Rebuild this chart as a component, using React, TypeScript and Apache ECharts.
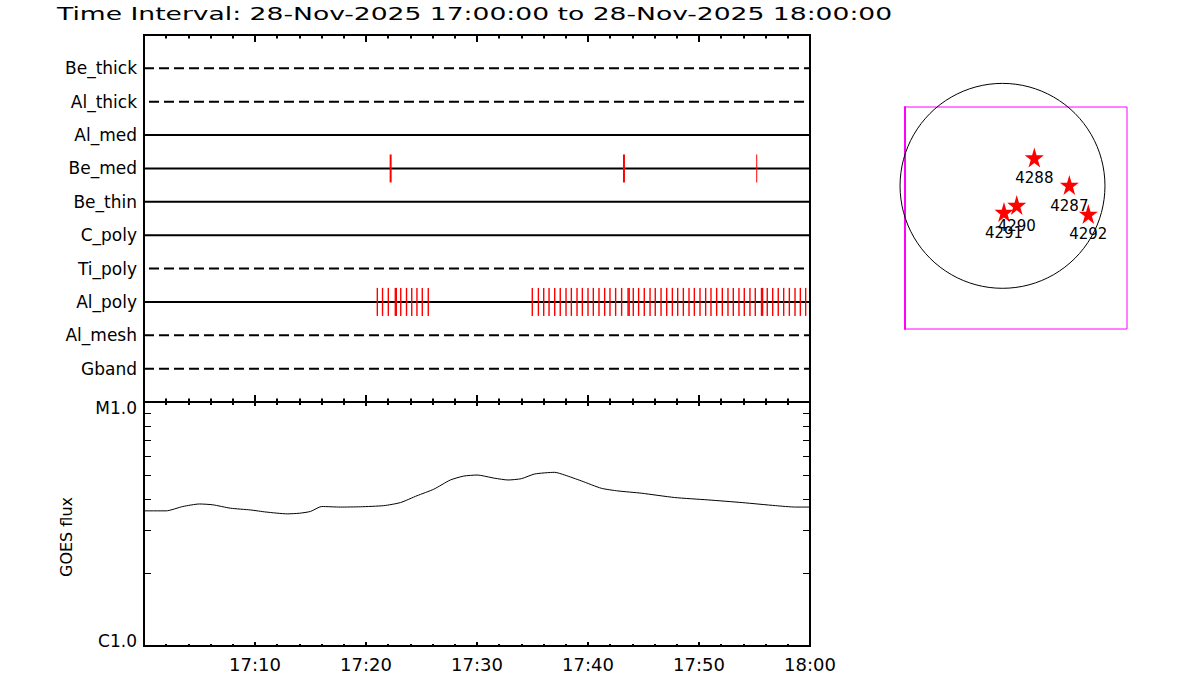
import React, { useEffect, useRef } from 'react';
import * as echarts from 'echarts';

// ---------- data ----------
const titleText = 'Time Interval: 28-Nov-2025 17:00:00 to 28-Nov-2025 18:00:00';

const rowNames = ['Be_thick', 'Al_thick', 'Al_med', 'Be_med', 'Be_thin', 'C_poly', 'Ti_poly', 'Al_poly', 'Al_mesh', 'Gband'];
const dashedRows = ['Be_thick', 'Al_thick', 'Ti_poly', 'Al_mesh', 'Gband'];
const offsetDashRows = ['Al_thick', 'Ti_poly'];

// event times in minutes after 17:00
const beMedEvents = [22.22, 43.24];
const beMedFaintEvents = [55.2];
const alPolyEvents = [
  21.02, 21.49, 22.01, 22.64, 22.73, 23.13, 23.65, 24.12, 24.59, 25.07, 25.61,
  34.98, 35.53, 36.01, 36.49, 37.0, 37.5, 38.02, 38.5, 39.01, 39.49, 40.0, 40.48,
  40.99, 41.5, 41.98, 42.49, 43.03, 43.61, 43.71, 44.08, 44.56, 45.07, 45.59, 46.06,
  46.58, 47.09, 47.6, 48.08, 48.59, 49.1, 49.58, 50.09, 50.6, 51.08, 51.59, 52.1,
  52.61, 53.09, 53.6, 54.08, 54.59, 55.07, 55.63, 55.73, 56.15, 56.64, 57.14, 57.63,
  58.14, 58.65, 59.13, 59.61,
];

// GOES flux (W/m^2), minutes after 17:00
const goesMinutes = [0, 2.0, 3.5, 5.0, 6.2, 7.8, 9.6, 11.0, 12.9, 14.0, 15.0, 16.0, 17.7, 19.5, 21.6, 23.1, 24.6, 26.1, 27.6, 28.8, 30.0, 31.6, 32.8, 34.0, 35.2, 37.0, 37.9, 39.4, 41.2, 42.7, 44.8, 47.8, 50.8, 53.9, 56.9, 58.7, 60];
const goesFlux = [3.58e-6, 3.58e-6, 3.73e-6, 3.82e-6, 3.79e-6, 3.67e-6, 3.61e-6, 3.54e-6, 3.48e-6, 3.5e-6, 3.56e-6, 3.73e-6, 3.71e-6, 3.72e-6, 3.76e-6, 3.87e-6, 4.13e-6, 4.39e-6, 4.79e-6, 4.97e-6, 5.02e-6, 4.87e-6, 4.79e-6, 4.85e-6, 5.07e-6, 5.15e-6, 5.02e-6, 4.75e-6, 4.43e-6, 4.32e-6, 4.23e-6, 4.06e-6, 3.97e-6, 3.87e-6, 3.76e-6, 3.71e-6, 3.71e-6];
const fluxMinorTicks = [2e-6, 3e-6, 4e-6, 5e-6, 6e-6, 7e-6, 8e-6, 9e-6];

// Active regions (arcsec)
const regionIds = ['4288', '4287', '4292', '4291', '4290'];
const regionX = [302, 634, 814, 14, 135];
const regionY = [268, 8, -267, -249, -182];
const solarRadius = 972;
const fovCenter = [128, -305];
const fovHalf = 1053;

// ---------- helpers ----------
const FONT = 'DejaVu Sans';
const fmtTime = (v: number) => {
  if (v <= 0) return '';
  if (v >= 60) return '18:00';
  return '17:' + String(Math.round(v)).padStart(2, '0');
};
const starPath =
  'path://M0,-10 L2.245,-3.09 L9.51,-3.09 L3.633,1.18 L5.88,8.09 L0,3.82 L-5.88,8.09 L-3.633,1.18 L-9.51,-3.09 L-2.245,-3.09 Z';

function measure(text: string, font: string) {
  const ctx = document.createElement('canvas').getContext('2d');
  if (!ctx) return 600;
  ctx.font = font;
  return ctx.measureText(text).width;
}

function eventSeries(times: number[], row: string, width: number) {
  const idx = rowNames.indexOf(row) + 1;
  return {
    type: 'custom',
    xAxisIndex: 1,
    yAxisIndex: 0,
    silent: true,
    z: 3,
    data: times.map((t) => [t, idx]),
    renderItem: (_p: any, api: any) => {
      const p = api.coord([api.value(0), api.value(1)]);
      return {
        type: 'line',
        shape: { x1: p[0], y1: p[1] - 14, x2: p[0], y2: p[1] + 14 },
        style: { stroke: '#ff0000', lineWidth: width, opacity: 1 },
      };
    },
  };
}

const tickAxis = (gridIndex: number, position: 'top' | 'bottom', major: number, minor: number, showLabel: boolean) => ({
  type: 'value',
  gridIndex,
  position,
  min: 0,
  max: 60,
  interval: 10,
  axisLine: { show: true, onZero: false, lineStyle: { color: '#000', width: 2 } },
  axisTick: { show: true, inside: true, length: major, lineStyle: { color: '#000', width: 2 } },
  minorTick: { show: true, splitNumber: 5, length: minor, lineStyle: { color: '#000', width: 2 } },
  splitLine: { show: false },
  minorSplitLine: { show: false },
  axisLabel: {
    show: showLabel,
    formatter: fmtTime,
    fontFamily: FONT,
    fontSize: 18,
    color: '#000',
    margin: 9,
  },
});

export default function App() {
  const ref = useRef<HTMLDivElement>(null);

  useEffect(() => {
    document.body.style.margin = '0';
    if (!ref.current) return;
    const chart = echarts.init(ref.current, undefined, { renderer: 'svg' });

    const titleFont = `18px "${FONT}"`;
    const titleWidth = measure(titleText, titleFont);
    const titleScale = 836 / titleWidth;

    const rowSeries = rowNames.map((name, i) => ({
      type: 'line',
      name,
      xAxisIndex: 1,
      yAxisIndex: 0,
      silent: true,
      symbol: 'none',
      z: 2,
      data: [
        [0, i + 1],
        [60, i + 1],
      ],
      lineStyle: {
        color: '#000',
        width: 2,
        type: dashedRows.includes(name) ? [10, 5] : 'solid',
        dashOffset: offsetDashRows.includes(name) ? 10 : 0,
      },
    }));

    const option: any = {
      animation: false,
      backgroundColor: '#fff',
      graphic: [
        {
          type: 'text',
          x: 57,
          y: 14,
          scaleX: titleScale,
          style: { text: titleText, font: titleFont, fill: '#000', align: 'left', verticalAlign: 'middle' },
        },
      ],
      grid: [
        { left: 144, top: 35, width: 666, height: 367, show: true, borderColor: '#000', borderWidth: 2 },
        { left: 144, top: 402, width: 666, height: 244, show: true, borderColor: '#000', borderWidth: 2 },
        { left: 905, top: 107, width: 222, height: 222, show: true, borderColor: '#ff00ff', borderWidth: 1 },
      ],
      xAxis: [
        tickAxis(0, 'top', 7, 3.5, false),
        tickAxis(0, 'bottom', 7, 3.5, false),
        tickAxis(1, 'top', 4, 3, false),
        tickAxis(1, 'bottom', 4, 2, true),
        {
          type: 'value',
          gridIndex: 2,
          min: fovCenter[0] - fovHalf,
          max: fovCenter[0] + fovHalf,
          show: false,
          splitLine: { show: false },
        },
      ],
      yAxis: [
        {
          type: 'value',
          gridIndex: 0,
          min: 0,
          max: rowNames.length + 1,
          interval: 1,
          inverse: true,
          axisLine: { show: true, onZero: false, lineStyle: { color: '#000', width: 2 } },
          axisTick: { show: false },
          splitLine: { show: false },
          axisLabel: {
            formatter: (v: number) => rowNames[Math.round(v) - 1] ?? '',
            fontFamily: FONT,
            fontSize: 17,
            color: '#000',
            margin: 7,
          },
        },
        {
          type: 'log',
          logBase: 10,
          gridIndex: 1,
          min: 1e-6,
          max: 1e-5,
          axisLine: { show: true, onZero: false, lineStyle: { color: '#000', width: 2 } },
          axisTick: { show: false },
          splitLine: { show: false },
          axisLabel: {
            formatter: (v: number) => (v < 3e-6 ? '{c|C1.0}' : '{m|M1.0}'),
            fontFamily: FONT,
            fontSize: 17,
            color: '#000',
            margin: 7,
            rich: {
              c: { fontFamily: FONT, fontSize: 17, color: '#000', padding: [0, 0, 10, 0] },
              m: { fontFamily: FONT, fontSize: 17, color: '#000', padding: [12, 0, 0, 0] },
            },
          },
          name: 'GOES flux',
          nameLocation: 'middle',
          nameGap: 70,
          nameTextStyle: { fontFamily: FONT, fontSize: 16, color: '#000', padding: [0, 26, 0, 0] },
        },
        {
          type: 'value',
          gridIndex: 2,
          min: fovCenter[1] - fovHalf,
          max: fovCenter[1] + fovHalf,
          axisLine: { show: true, onZero: false, lineStyle: { color: '#ff00ff', width: 2 } },
          axisTick: { show: false },
          axisLabel: { show: false },
          splitLine: { show: false },
        },
      ],
      series: [
        ...rowSeries,
        eventSeries(beMedEvents, 'Be_med', 2),
        eventSeries(beMedFaintEvents, 'Be_med', 1),
        eventSeries(alPolyEvents, 'Al_poly', 1.4),
        {
          type: 'line',
          name: 'GOES',
          xAxisIndex: 3,
          yAxisIndex: 1,
          silent: true,
          symbol: 'none',
          smooth: 0.2,
          data: goesMinutes.map((t, i) => [t, goesFlux[i]]),
          lineStyle: { color: '#000', width: 1 },
        },
        {
          type: 'custom',
          xAxisIndex: 3,
          yAxisIndex: 1,
          silent: true,
          data: fluxMinorTicks.map((v) => [0, v]),
          renderItem: (_p: any, api: any) => {
            const l = api.coord([0, api.value(1)]);
            const r = api.coord([60, api.value(1)]);
            const y = Math.round(l[1]) + 0.5;
            return {
              type: 'group',
              children: [
                { type: 'line', shape: { x1: l[0], y1: y, x2: l[0] + 7, y2: y }, style: { stroke: '#000', lineWidth: 1 } },
                { type: 'line', shape: { x1: r[0] - 7, y1: y, x2: r[0], y2: y }, style: { stroke: '#000', lineWidth: 1 } },
              ],
            };
          },
        },
        {
          type: 'custom',
          xAxisIndex: 4,
          yAxisIndex: 2,
          silent: true,
          clip: false,
          data: [[0, 0, solarRadius]],
          renderItem: (_p: any, api: any) => {
            const c = api.coord([api.value(0), api.value(1)]);
            const r = api.size([api.value(2), 0])[0];
            return {
              type: 'circle',
              shape: { cx: c[0], cy: c[1], r },
              style: { fill: 'none', stroke: '#000', lineWidth: 1 },
            };
          },
        },
        {
          type: 'scatter',
          xAxisIndex: 4,
          yAxisIndex: 2,
          silent: true,
          symbol: starPath,
          symbolSize: [19, 20],
          itemStyle: { color: '#ff0000', opacity: 1 },
          data: regionIds.map((id, i) => [regionX[i], regionY[i], id]),
          label: {
            show: true,
            position: 'bottom',
            distance: 3,
            formatter: (p: any) => p.value[2],
            fontFamily: FONT,
            fontSize: 15,
            color: '#000',
            opacity: 1,
          },
        },
      ],
    };

    chart.setOption(option);
    return () => chart.dispose();
  }, []);

  return <div ref={ref} style={{ width: 1200, height: 700 }} />;
}
